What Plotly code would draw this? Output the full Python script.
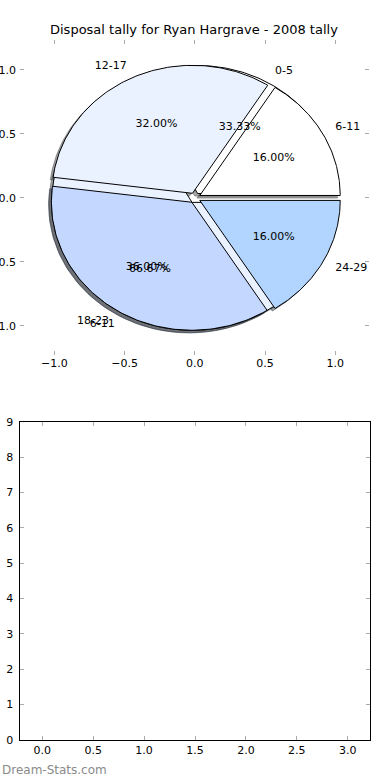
import numpy as np
import plotly.graph_objects as go

# ---- data ----
title_text = "Disposal tally for Ryan Hargrave - 2008 tally"
main_groups = ["6-11", "12-17", "18-23", "24-29"]
main_counts = [4, 8, 9, 4]
main_colors = ["#FFFFFF", "#EAF1FF", "#C4D8FF", "#B2D5FF"]

second_groups = ["0-5", "6-11"]
second_counts = [1, 2]
second_colors = ["#FFFFFF", "#EAF1FF"]

explode = 0.04
x_ticks = [-1.0, -0.5, 0.0, 0.5, 1.0]
y_ticks = [-1.0, -0.5, 0.0, 0.5, 1.0]
x2_ticks = [0.0, 0.5, 1.0, 1.5, 2.0, 2.5, 3.0]
y2_ticks = [0, 1, 2, 3, 4, 5, 6, 7, 8, 9]

FONT = "DejaVu Sans"


def pie_geometry(counts):
    total = float(sum(counts))
    fracs = [c / total for c in counts]
    out = []
    start = 0.0
    for f in fracs:
        t1 = start
        t2 = start + 360.0 * f
        mid = np.deg2rad((t1 + t2) / 2)
        cx = explode * np.cos(mid)
        cy = explode * np.sin(mid)
        out.append((f, t1, t2, mid, cx, cy))
        start = t2
    return out


def wedge_xy(cx, cy, t1, t2, dx=0.0, dy=0.0):
    ang = np.deg2rad(np.linspace(t1, t2, 120))
    xs = np.concatenate([[cx], cx + np.cos(ang), [cx]]) + dx
    ys = np.concatenate([[cy], cy + np.sin(ang), [cy]]) + dy
    return xs, ys


fig = go.Figure()

geo_main = pie_geometry(main_counts)
geo_second = pie_geometry(second_counts)

# shadows (drawn below all wedges)
for geo, cols in ((geo_second, second_colors), (geo_main, main_colors)):
    for (f, t1, t2, mid, cx, cy), col in zip(geo, cols):
        r, g, b = (int(col[i:i + 2], 16) for i in (1, 3, 5))
        sc = f"rgba({int(r*0.3)},{int(g*0.3)},{int(b*0.3)},0.5)"
        xs, ys = wedge_xy(cx, cy, t1, t2, -0.02, -0.02)
        fig.add_trace(go.Scatter(x=xs, y=ys, mode="lines", fill="toself",
                                 fillcolor=sc, line=dict(color=sc, width=1),
                                 hoverinfo="skip", showlegend=False,
                                 xaxis="x", yaxis="y"))

# wedges: second pie first, main pie on top
for geo, cols, names in ((geo_second, second_colors, second_groups),
                         (geo_main, main_colors, main_groups)):
    for (f, t1, t2, mid, cx, cy), col, nm in zip(geo, cols, names):
        xs, ys = wedge_xy(cx, cy, t1, t2)
        fig.add_trace(go.Scatter(x=xs, y=ys, mode="lines", fill="toself",
                                 fillcolor=col, line=dict(color="black", width=1),
                                 name=nm, hoverinfo="skip", showlegend=False,
                                 xaxis="x", yaxis="y"))

# labels
for geo, names in ((geo_second, second_groups), (geo_main, main_groups)):
    for (f, t1, t2, mid, cx, cy), nm in zip(geo, names):
        lx = cx + 1.1 * np.cos(mid)
        ly = cy + 1.1 * np.sin(mid)
        pos = "middle right" if lx > 0 else "middle left"
        fig.add_trace(go.Scatter(x=[lx], y=[ly], mode="text", text=[nm],
                                 textposition=pos,
                                 textfont=dict(family=FONT, size=11, color="black"),
                                 hoverinfo="skip", showlegend=False,
                                 xaxis="x", yaxis="y"))
        px = cx + 0.6 * np.cos(mid)
        py = cy + 0.6 * np.sin(mid)
        fig.add_trace(go.Scatter(x=[px], y=[py], mode="text",
                                 text=[f"{f*100:.2f}%"],
                                 textposition="middle center",
                                 textfont=dict(family=FONT, size=11, color="black"),
                                 hoverinfo="skip", showlegend=False,
                                 xaxis="x", yaxis="y"))

# empty lower axes (needs a trace to be drawn)
fig.add_trace(go.Scatter(x=[None], y=[None], mode="markers", showlegend=False,
                         hoverinfo="skip", xaxis="x2", yaxis="y2"))

tick_common = dict(ticks="inside", ticklen=4, tickwidth=1, tickcolor="#AAAAAA",
                   showgrid=False, zeroline=False, automargin=False,
                   tickfont=dict(family=FONT, size=11, color="black"))

fig.update_layout(
    width=390, height=780,
    margin=dict(l=0, r=0, t=0, b=0),
    paper_bgcolor="white", plot_bgcolor="white",
    showlegend=False,
    font=dict(family=FONT, size=11, color="black"),
    xaxis=dict(domain=[0.0513, 0.9462], range=[-1.245, 1.24], anchor="y",
               tickvals=x_ticks, tickformat=".1f", showline=False,
               mirror="ticks", **tick_common),
    yaxis=dict(domain=[0.5449, 0.9487], range=[-1.227, 1.234], anchor="x",
               tickvals=y_ticks, tickformat=".1f", showline=False,
               mirror="ticks", ticklabelstandoff=3, **tick_common),
    xaxis2=dict(domain=[0.05, 0.9487], range=[-0.224, 3.219], anchor="y2",
                tickvals=x2_ticks, tickformat=".1f", showline=True,
                linecolor="black", linewidth=1, mirror="ticks", **tick_common),
    yaxis2=dict(domain=[0.0513, 0.4594], range=[0, 9], anchor="x2",
                tickvals=y2_ticks, showline=True, ticklabelstandoff=3,
                linecolor="black", linewidth=1, mirror="ticks", **tick_common),
    annotations=[
        dict(text=title_text, x=0.4974, y=1 - 30 / 780, xref="paper", yref="paper",
             xanchor="center", yanchor="middle", showarrow=False,
             font=dict(family=FONT, size=13, color="black")),
        dict(text="Dream-Stats.com", x=0.0, y=1 - 770 / 780, xref="paper", yref="paper",
             xanchor="left", yanchor="middle", showarrow=False,
             font=dict(family=FONT, size=12, color="#8A8A8A")),
    ],
)

fig.write_html("out.html",
               config={"displayModeBar": False, "staticPlot": True},
               post_script="document.body.style.margin='0';"
                           "document.body.style.overflow='hidden';")
